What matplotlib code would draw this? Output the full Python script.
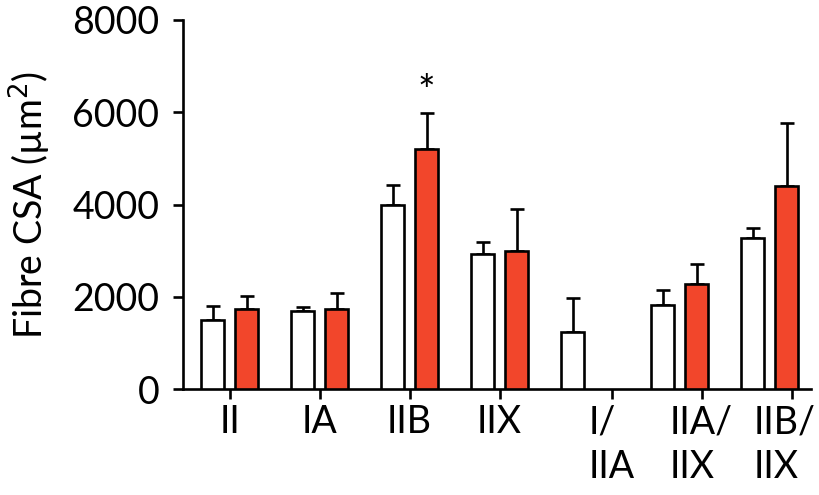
import numpy as np
import matplotlib
matplotlib.use("Agg")
import matplotlib.pyplot as plt
import matplotlib.transforms as mtransforms

plt.rcParams['font.family'] = ['Lato', 'DejaVu Sans']

categories = ["II", "IA", "IIB", "IIX", "I/\nIIA", "IIA/\nIIX", "IIB/\nIIX"]
white_vals = [1500, 1700, 4000, 2930, 1230, 1820, 3280]
white_err = [300, 85, 420, 265, 740, 325, 215]
red_vals = [1730, 1740, 5200, 3000, np.nan, 2270, 4400]
red_err = [290, 350, 790, 900, np.nan, 435, 1360]
yticks = [0, 2000, 4000, 6000, 8000]
star_group = 2
star_y = 6420

red = '#F2462B'
lw = 1.9

fig = plt.figure(figsize=(8.2, 4.95), dpi=100)
ax = fig.add_axes([0.2232, 0.2141, 0.989 - 0.2232, 0.9596 - 0.2141])

x = np.arange(len(categories))
bw = 0.256
off = 0.189

ax.bar(x - off, white_vals, bw, color='white', edgecolor='black', linewidth=lw, zorder=3)
ax.bar(x + off, red_vals, bw, color=red, edgecolor='black', linewidth=lw, zorder=3)
ax.errorbar(x - off, white_vals, yerr=[np.zeros(len(x)), white_err], fmt='none',
            ecolor='black', elinewidth=lw, capsize=5, capthick=lw, zorder=2)
ax.errorbar(x + off, red_vals, yerr=[np.zeros(len(x)), red_err], fmt='none',
            ecolor='black', elinewidth=lw, capsize=5, capthick=lw, zorder=2)

ax.text(x[star_group] + off, star_y, '*', ha='center', va='center', fontsize=30)

tick_shift = [0, 0, 0, 0, 0.245, 0.245, 0.245]
ax.set_xticks(x + np.array(tick_shift))
ax.set_xticklabels(categories, fontsize=27, multialignment='left', linespacing=1.3)
ax.set_yticks(yticks)
ax.set_yticklabels([str(v) for v in yticks], fontsize=27)
ax.set_xlim(-0.517, 6.46)
ax.set_ylim(0, 8000)

for s in ['top', 'right']:
    ax.spines[s].set_visible(False)
for s in ['left', 'bottom']:
    ax.spines[s].set_linewidth(lw)
ax.tick_params(axis='both', direction='out', width=lw, length=7, colors='black')
ax.tick_params(axis='y', pad=10)
ax.tick_params(axis='x', pad=4)

last = ax.get_xticklabels()[-1]
last.set_transform(last.get_transform() +
                   mtransforms.ScaledTranslation(-7 / 100, 0, fig.dpi_scale_trans))

ax.set_ylabel('Fibre CSA (µm$^2$)', fontsize=27, labelpad=14)

fig.savefig('out.png', dpi=100)
